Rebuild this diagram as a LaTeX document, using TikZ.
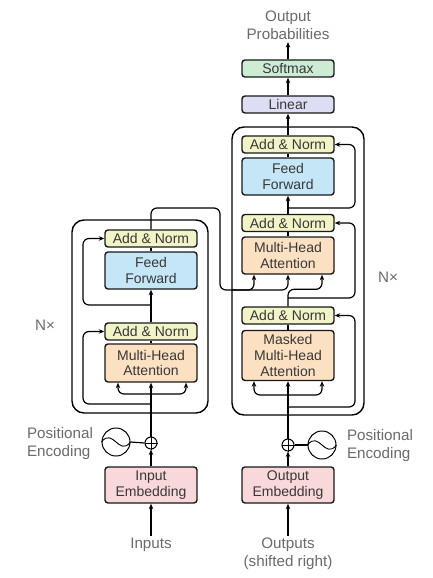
\documentclass[tikz,border=0pt]{standalone}
\usepackage{fontspec}
\setmainfont{Liberation Sans}
\usetikzlibrary{arrows.meta,calc}
\definecolor{cAN}{RGB}{242,243,198}
\definecolor{cFF}{RGB}{196,230,247}
\definecolor{cMHA}{RGB}{252,224,194}
\definecolor{cEMB}{RGB}{249,216,218}
\definecolor{cLIN}{RGB}{221,221,243}
\definecolor{cSM}{RGB}{204,236,212}
\begin{document}
\begin{tikzpicture}[x=1pt,y=-1pt,
  blk/.style={draw=black!90, line width=1.4pt, rounded corners=3pt, minimum width=92pt,
    inner sep=0pt, align=center, font=\fontsize{14}{15.8}\selectfont, text=black!78},
  outer/.style={draw=black, line width=1.4pt, rounded corners=12pt, inner sep=0pt},
  lbl/.style={font=\fontsize{15.2}{18}\selectfont, text=black!58, align=center, inner sep=2pt},
  ln/.style={line width=1.2pt},
  arr/.style={line width=1.2pt, -{Stealth[length=5.5pt,width=4.5pt]}},
  rc/.style={rounded corners=6pt},
  pe/.style={circle, draw, line width=1pt, minimum size=28pt, inner sep=0pt},
  plus/.style={circle, draw, line width=1pt, minimum size=12pt, inner sep=0pt}]
\useasboundingbox[fill=white] (0,0) rectangle (432,578);

% outer boxes
\node[outer, minimum width=136pt, minimum height=193pt] (encbox) at (140,316.5) {};
\node[outer, minimum width=132pt, minimum height=288pt] (decbox) at (298,271) {};

% encoder blocks
\node[blk, fill=cAN, minimum height=17pt] (an2e) at (151,238.5) {Add \& Norm};
\node[blk, fill=cFF, minimum height=37pt] (ffe) at (151,270.5) {Feed\\Forward};
\node[blk, fill=cAN, minimum height=17pt] (an1e) at (151,331.5) {Add \& Norm};
\node[blk, fill=cMHA, minimum height=38pt] (mhae) at (151,363) {Multi-Head\\Attention};
\node[blk, fill=cEMB, minimum height=36pt] (ie) at (151,485) {Input\\Embedding};
\node[plus] (plusE) at (151,443) {};
\node[pe] (peE) at (116,442) {};

% decoder blocks
\node[blk, fill=cSM, minimum height=17pt] (softmax) at (288,68.5) {Softmax};
\node[blk, fill=cLIN, minimum height=17pt] (linear) at (288,104.5) {Linear};
\node[blk, fill=cAN, minimum height=17pt] (an3d) at (288,144.5) {Add \& Norm};
\node[blk, fill=cFF, minimum height=37pt] (ffd) at (288,176.5) {Feed\\Forward};
\node[blk, fill=cAN, minimum height=17pt] (an2d) at (288,223) {Add \& Norm};
\node[blk, fill=cMHA, minimum height=37pt] (mhad) at (288,255.5) {Multi-Head\\Attention};
\node[blk, fill=cAN, minimum height=17pt] (an1d) at (288,315.5) {Add \& Norm};
\node[blk, fill=cMHA, minimum height=50pt] (mmhad) at (288,355.5) {Masked\\Multi-Head\\Attention};
\node[blk, fill=cEMB, minimum height=36pt] (oe) at (288,485) {Output\\Embedding};
\node[plus] (plusD) at (288,445) {};
\node[pe] (peD) at (322,445) {};

% labels
\node[lbl] (inputs) at (151,545) {Inputs};
\node[lbl] (outputs) at (288,554) {Outputs\\(shifted right)};
\node[lbl] (outprob) at (288,25.5) {Output\\Probabilities};
\node[lbl, align=left] (posE) at (60,444) {Positional\\Encoding};
\node[lbl, align=left] (posD) at (380,446) {Positional\\Encoding};
\node[lbl] (nxE) at (45,325) {N×};
\node[lbl] (nxD) at (388,277) {N×};

% symbols
\draw[line width=1pt] (plusE.north) -- (plusE.south) (plusE.west) -- (plusE.east);
\draw[line width=1pt] (plusD.north) -- (plusD.south) (plusD.west) -- (plusD.east);
\draw[line width=0.9pt] (peE.west) .. controls ($(peE)+(-3,-15)$) and ($(peE)+(3,15)$) .. (peE.east);
\draw[line width=0.9pt] (peD.west) .. controls ($(peD)+(-3,-15)$) and ($(peD)+(3,15)$) .. (peD.east);
\draw[ln] (peE.east) -- (plusE.west);
\draw[ln] (plusD.east) -- (peD.west);

% encoder connectors
\draw[arr] (inputs.north) -- (ie.south);
\draw[arr] (ie.north) -- (plusE.south);
\draw[arr] (plusE.north) -- (mhae.south);
\coordinate (eb1) at (151,394);
\coordinate (eb0) at (151,404);
\coordinate (eb2) at (151,305);
\draw[arr,rc] (eb1) -| ([xshift=-33pt]mhae.south);
\draw[arr,rc] (eb1) -| ([xshift=35pt]mhae.south);
\draw[arr,rc] (eb0) -- ++(-68,0) |- (an1e.west);
\draw[ln] (mhae.north) -- (an1e.south);
\draw[arr] (an1e.north) -- (ffe.south);
\draw[arr,rc] (eb2) -- ++(-68,0) |- (an2e.west);
\draw[ln] (ffe.north) -- (an2e.south);

% encoder to decoder
\draw[arr,rc] (an2e.north) |- (220,208) -- (220,290) -| (mhad.south);
\coordinate (db3) at (232,290);
\draw[arr,rc] (db3) -| ([xshift=-34pt]mhad.south);

% decoder connectors
\draw[arr] (outputs.north) -- (oe.south);
\draw[arr] (oe.north) -- (plusD.south);
\draw[arr] (plusD.north) -- (mmhad.south);
\coordinate (db1) at (288,395);
\coordinate (db0) at (288,407);
\coordinate (db2) at (288,298);
\coordinate (db4) at (288,208);
\draw[arr,rc] (db1) -| ([xshift=-34pt]mmhad.south);
\draw[arr,rc] (db1) -| ([xshift=34pt]mmhad.south);
\draw[arr,rc] (db0) -- ++(67,0) |- (an1d.east);
\draw[ln] (mmhad.north) -- (an1d.south);
\draw[arr,rc] (an1d.north) -- ++(0,-17) -| ([xshift=34pt]mhad.south);
\draw[arr,rc] (db2) -- ++(67,0) |- (an2d.east);
\draw[ln] (mhad.north) -- (an2d.south);
\draw[arr] (an2d.north) -- (ffd.south);
\draw[arr,rc] (db4) -- ++(67,0) |- (an3d.east);
\draw[ln] (ffd.north) -- (an3d.south);
\draw[arr] (an3d.north) -- (linear.south);
\draw[arr] (linear.north) -- (softmax.south);
\draw[arr] (softmax.north) -- (outprob.south);
\end{tikzpicture}
\end{document}
